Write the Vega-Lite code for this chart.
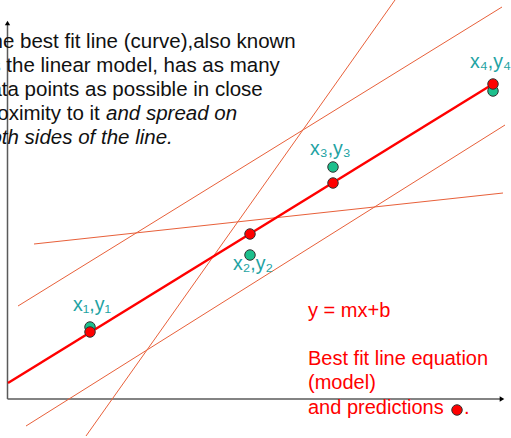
{
  "$schema": "https://vega.github.io/schema/vega-lite/v6.json",
  "width": 511,
  "height": 438,
  "autosize": {"type": "none"},
  "padding": 0,
  "background": "white",
  "config": {"view": {"stroke": null}},
  "datasets": {
    "segments": [
      {"kind": "axis", "x": 7.5, "y": 39, "x2": 7.5, "y2": 414},
      {"kind": "axis", "x": 7.5, "y": 39, "x2": 500, "y2": 39},
      {"kind": "guess", "x": 18, "y": 132, "x2": 502, "y2": 431},
      {"kind": "guess", "x": 86, "y": 2, "x2": 395, "y2": 438},
      {"kind": "guess", "x": 34, "y": 194, "x2": 503, "y2": 245},
      {"kind": "guess", "x": 26, "y": 12, "x2": 505, "y2": 313},
      {"kind": "fit", "x": 8, "y": 55, "x2": 493, "y2": 354}
    ],
    "arrows": [
      {"shape": "triangle-up", "x": 7.5, "y": 415},
      {"shape": "triangle-right", "x": 502, "y": 39}
    ],
    "points": [
      {"kind": "actual", "x": 90, "y": 111},
      {"kind": "actual", "x": 250, "y": 183},
      {"kind": "actual", "x": 333, "y": 271},
      {"kind": "actual", "x": 493, "y": 347},
      {"kind": "predicted", "x": 90, "y": 106},
      {"kind": "predicted", "x": 250, "y": 204},
      {"kind": "predicted", "x": 333, "y": 255},
      {"kind": "predicted", "x": 493, "y": 354},
      {"kind": "predicted", "x": 457, "y": 28}
    ],
    "labels": [
      {"text": "x₁,y₁", "x": 73, "y": 127},
      {"text": "x₂,y₂", "x": 233, "y": 168},
      {"text": "x₃,y₃", "x": 310, "y": 283},
      {"text": "x₄,y₄", "x": 470, "y": 370}
    ],
    "para": [
      {"text": "The best fit line (curve),also known", "style": "normal", "x": -21, "y": 390},
      {"text": "as the linear model, has as many", "style": "normal", "x": -21, "y": 366},
      {"text": "data points as possible in close", "style": "normal", "x": -21, "y": 342},
      {"text": "proximity to it", "style": "normal", "x": -21, "y": 318},
      {"text": "and spread on", "style": "italic", "x": 106, "y": 318},
      {"text": "both sides of the line.", "style": "italic", "x": -21, "y": 294}
    ],
    "notes": [
      {"text": "y = mx+b", "x": 308, "y": 121},
      {"text": "Best fit line equation", "x": 308, "y": 73},
      {"text": "(model)", "x": 308, "y": 49},
      {"text": "and predictions", "x": 308, "y": 24},
      {"text": ".", "x": 464, "y": 24}
    ]
  },
  "encoding": {
    "x": {"field": "x", "type": "quantitative", "scale": {"domain": [0, 511], "nice": false, "zero": false}, "axis": null},
    "y": {"field": "y", "type": "quantitative", "scale": {"domain": [0, 438], "nice": false, "zero": false}, "axis": null}
  },
  "layer": [
    {
      "data": {"name": "segments"},
      "transform": [{"filter": "datum.kind === 'axis'"}],
      "mark": {"type": "rule", "color": "#5a5a5a", "strokeWidth": 1.5},
      "encoding": {"x2": {"field": "x2"}, "y2": {"field": "y2"}}
    },
    {
      "data": {"name": "arrows"},
      "mark": {"type": "point", "filled": true, "color": "#000000", "size": 28, "opacity": 1},
      "encoding": {"shape": {"field": "shape", "type": "nominal", "scale": null}}
    },
    {
      "data": {"name": "segments"},
      "transform": [{"filter": "datum.kind === 'guess'"}],
      "mark": {"type": "rule", "color": "#e8603a", "strokeWidth": 1},
      "encoding": {"x2": {"field": "x2"}, "y2": {"field": "y2"}}
    },
    {
      "data": {"name": "segments"},
      "transform": [{"filter": "datum.kind === 'fit'"}],
      "mark": {"type": "rule", "color": "#ff0000", "strokeWidth": 2.5},
      "encoding": {"x2": {"field": "x2"}, "y2": {"field": "y2"}}
    },
    {
      "data": {"name": "points"},
      "mark": {"type": "point", "shape": "circle", "filled": true, "size": 110, "stroke": "#333333", "strokeWidth": 1, "opacity": 1},
      "encoding": {
        "fill": {"field": "kind", "type": "nominal", "scale": {"domain": ["actual", "predicted"], "range": ["#1cbf8c", "#ff0000"]}, "legend": null}
      }
    },
    {
      "data": {"name": "labels"},
      "mark": {"type": "text", "align": "left", "baseline": "alphabetic", "font": "Liberation Sans", "fontSize": 19.5, "color": "#1fa3a3"},
      "encoding": {"text": {"field": "text"}}
    },
    {
      "data": {"name": "para"},
      "transform": [{"filter": "datum.style === 'normal'"}],
      "mark": {"type": "text", "align": "left", "baseline": "alphabetic", "font": "Liberation Sans", "fontSize": 20.5, "color": "#111111"},
      "encoding": {"text": {"field": "text"}}
    },
    {
      "data": {"name": "para"},
      "transform": [{"filter": "datum.style === 'italic'"}],
      "mark": {"type": "text", "align": "left", "baseline": "alphabetic", "font": "Liberation Sans", "fontSize": 20.5, "fontStyle": "italic", "color": "#111111"},
      "encoding": {"text": {"field": "text"}}
    },
    {
      "data": {"name": "notes"},
      "mark": {"type": "text", "align": "left", "baseline": "alphabetic", "font": "Liberation Sans", "fontSize": 20, "color": "#ff0000"},
      "encoding": {"text": {"field": "text"}}
    }
  ]
}
